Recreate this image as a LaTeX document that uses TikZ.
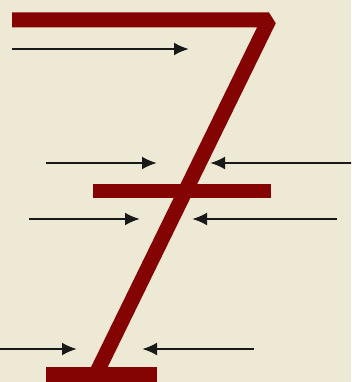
\documentclass[tikz,border=0pt]{standalone}
\usetikzlibrary{arrows.meta}
\definecolor{bgcream}{RGB}{238,233,212}
\definecolor{maroon}{RGB}{132,4,4}
\definecolor{arrowgray}{RGB}{25,25,25}
\tikzset{
  stroke7/.style={draw=maroon,line width=15pt,line join=bevel,line cap=butt},
  barfill/.style={fill=maroon,draw=none},
  flowarrow/.style={draw=arrowgray,line width=2.5pt,-{Latex[length=15pt,width=13pt]}}
}
\begin{document}
\begin{tikzpicture}[x=1pt,y=-1pt]
\fill[bgcream] (0,0) rectangle (351,382);
\useasboundingbox (0,0) rectangle (351,382);
\clip (0,0) rectangle (351,382);
% seven shape
\coordinate (tl) at (12,20);
\coordinate (tr) at (269,20);
\coordinate (bt) at (95,376);
\draw[stroke7] (tl) -- (tr) -- (bt);
\fill[barfill] (93,184) rectangle (271,198);
\fill[barfill] (46,367) rectangle (157,390);
% arrows
\coordinate (a1s) at (12,49);  \coordinate (a1e) at (189,49);
\coordinate (a2s) at (46,163); \coordinate (a2e) at (157,163);
\coordinate (a3s) at (352,163);\coordinate (a3e) at (210,163);
\coordinate (a4s) at (29,219); \coordinate (a4e) at (140,219);
\coordinate (a5s) at (337,219);\coordinate (a5e) at (192,219);
\coordinate (a6s) at (-2,349); \coordinate (a6e) at (77,349);
\coordinate (a7s) at (254,349);\coordinate (a7e) at (142,349);
\foreach \i in {1,...,7} \draw[flowarrow] (a\i s) -- (a\i e);
\end{tikzpicture}
\end{document}
